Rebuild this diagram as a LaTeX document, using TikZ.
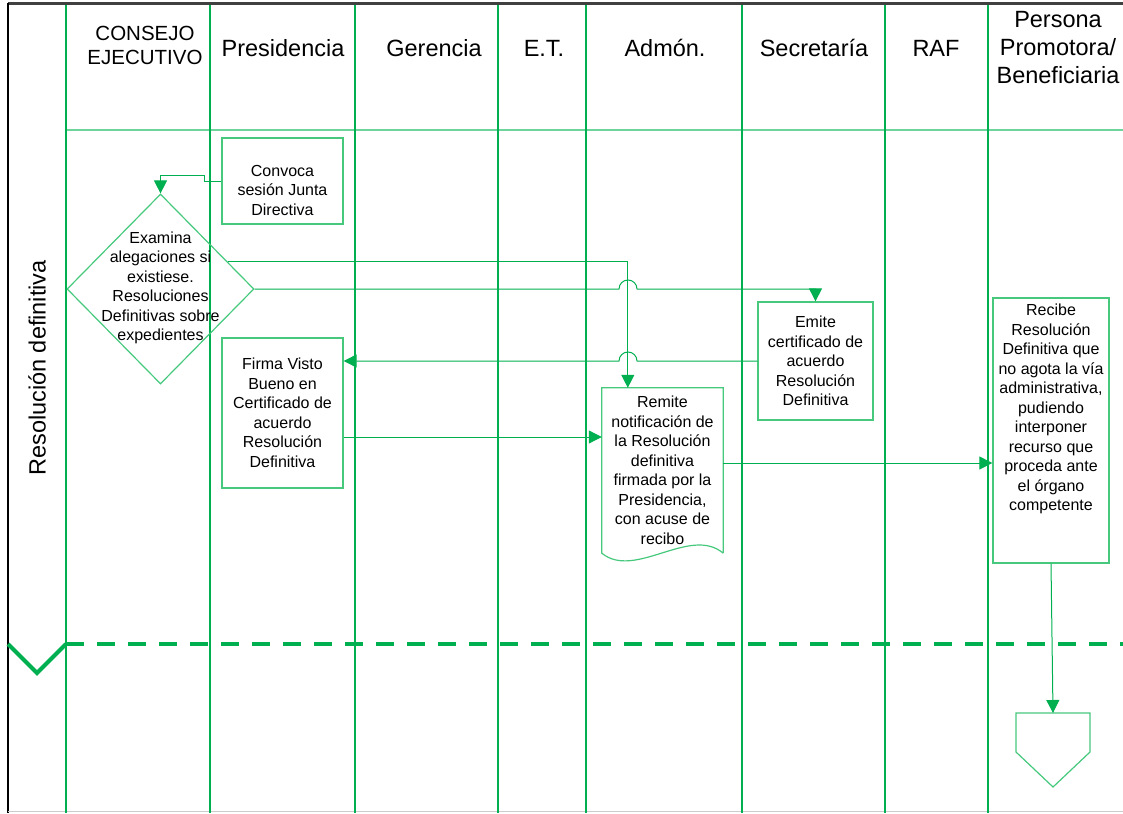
\documentclass[tikz,border=0pt]{standalone}
\usepackage{fontspec}
\setmainfont{Liberation Sans}
\usetikzlibrary{shapes.geometric,arrows.meta,calc}
\definecolor{lane}{RGB}{0,176,80}
\definecolor{boxg}{RGB}{70,200,125}
\definecolor{hdrg}{RGB}{110,212,155}
\begin{document}
\begin{tikzpicture}[x=1pt,y=-1pt,
  lanel/.style={draw=lane,line width=1.2pt},
  box/.style={draw=boxg,line width=1.3pt,rectangle,inner sep=0pt},
  txt/.style={font=\fontsize{16}{19.5}\selectfont,align=center,inner sep=0pt},
  hdr/.style={font=\fontsize{23.5}{28}\selectfont,align=center,inner sep=0pt},
  conn/.style={draw=lane,line width=1pt},
  arr/.style={conn,-{Triangle[length=13pt,width=13pt]}}]
\useasboundingbox (0,0) rectangle (1123,813);

% frame
\draw[black!75,line width=2.2pt] (8,3.5) -- (1123,3.5);
\draw[black,line width=1.2pt] (8,3) -- (8,813);
\draw[gray!40,line width=1pt] (8,811.5) -- (1123,811.5);
\draw[hdrg,line width=1.5pt] (66,130) -- (1123,130);
\foreach \x in {66,210,355,498,586,742,885,988}
  \draw[lanel] (\x,5) -- (\x,813);

% headers
\node[hdr,font=\fontsize{20.5}{24}\selectfont] (h1) at (145,45) {CONSEJO\\EJECUTIVO};
\node[hdr] (h2) at (283,48) {Presidencia};
\node[hdr] (h3) at (434,48) {Gerencia};
\node[hdr] (h4) at (544,48) {E.T.};
\node[hdr] (h5) at (665,48) {Admón.};
\node[hdr] (h6) at (814,48) {Secretaría};
\node[hdr] (h7) at (936,48) {RAF};
\node[hdr] (h8) at (1058,48) {Persona\\Promotora/\\Beneficiaria};
\node[hdr,rotate=90] (lbl) at (37,368) {Resolución definitiva};

% separator
\draw[lane,line width=4.5pt,dash pattern=on 18pt off 13pt] (66,644) -- (1123,644);
\draw[lane,line width=4pt] (8,644) -- (37,673) -- (66,644);

% shapes
\node[box,minimum width=121pt,minimum height=86pt] (convoca) at (282.5,181) {};
\node[txt] (convocat) at (282.5,190) {Convoca\\sesión Junta\\Directiva};

\node[draw=boxg,line width=1.2pt,shape=diamond,minimum width=187pt,minimum height=190pt,inner sep=0pt] (diam) at (160.5,289) {};
\node[txt] (diamt) at (160.5,288) {Examina\\alegaciones si\\existiese.\\Resoluciones\\Definitivas sobre\\expedientes};

\node[box,minimum width=121pt,minimum height=150pt,txt] (firma) at (282.5,413) {Firma Visto\\Bueno en\\Certificado de\\acuerdo\\Resolución\\Definitiva};

\node[box,minimum width=115pt,minimum height=118pt,txt] (emite) at (815.5,361) {Emite\\certificado de\\acuerdo\\Resolución\\Definitiva};

\node[txt,minimum width=121pt,minimum height=165pt] (remite) at (662.5,470.5) {Remite\\notificación de\\la Resolución\\definitiva\\firmada por la\\Presidencia,\\con acuse de\\recibo};
\draw[boxg,line width=1.2pt] (remite.south east) -- (remite.north east) -- (remite.north west) -- (remite.south west)
  .. controls ($(remite.south west)+(33,27)$) and ($(remite.south east)+(-33,-28)$) .. (remite.south east);

\node[box,minimum width=116pt,minimum height=265pt] (recibe) at (1051,430.5) {};
\node[txt,anchor=north] (recibet) at (1051,304) {Recibe\\Resolución\\Definitiva que\\no agota la vía\\administrativa,\\pudiendo\\interponer\\recurso que\\proceda ante\\el órgano\\competente};

\draw[boxg,line width=1.2pt] (1016,713) -- (1090,713) -- (1090,752) -- (1053,787) -- (1016,752) -- cycle;
\coordinate (offp) at (1053,713);

% connectors
\coordinate (rtop) at ($(remite.north west)+(26,0)$);
\draw[arr] (convoca.west) -- ++(-17,0) -- ++(0,-5) -| (diam.north);
\draw[arr] (diam.22) -| (rtop);
\draw[arr] (diam.east) -- (619,289) arc[start angle=180,end angle=0,radius=9pt] -- (emite.north |- diam.east) -- (emite.north);
\draw[arr] (emite.west) -- (637,361) arc[start angle=0,end angle=180,radius=9pt] -- (firma.east |- emite.west);
\coordinate (f1) at ($(firma.east)+(0,24)$);
\draw[arr] (f1) -- (remite.west |- f1);
\coordinate (r1) at ($(remite.east)+(0,-7.5)$);
\draw[arr] (r1) -- (recibe.west |- r1);
\draw[arr] (recibe.south) -- (offp);
\end{tikzpicture}
\end{document}
